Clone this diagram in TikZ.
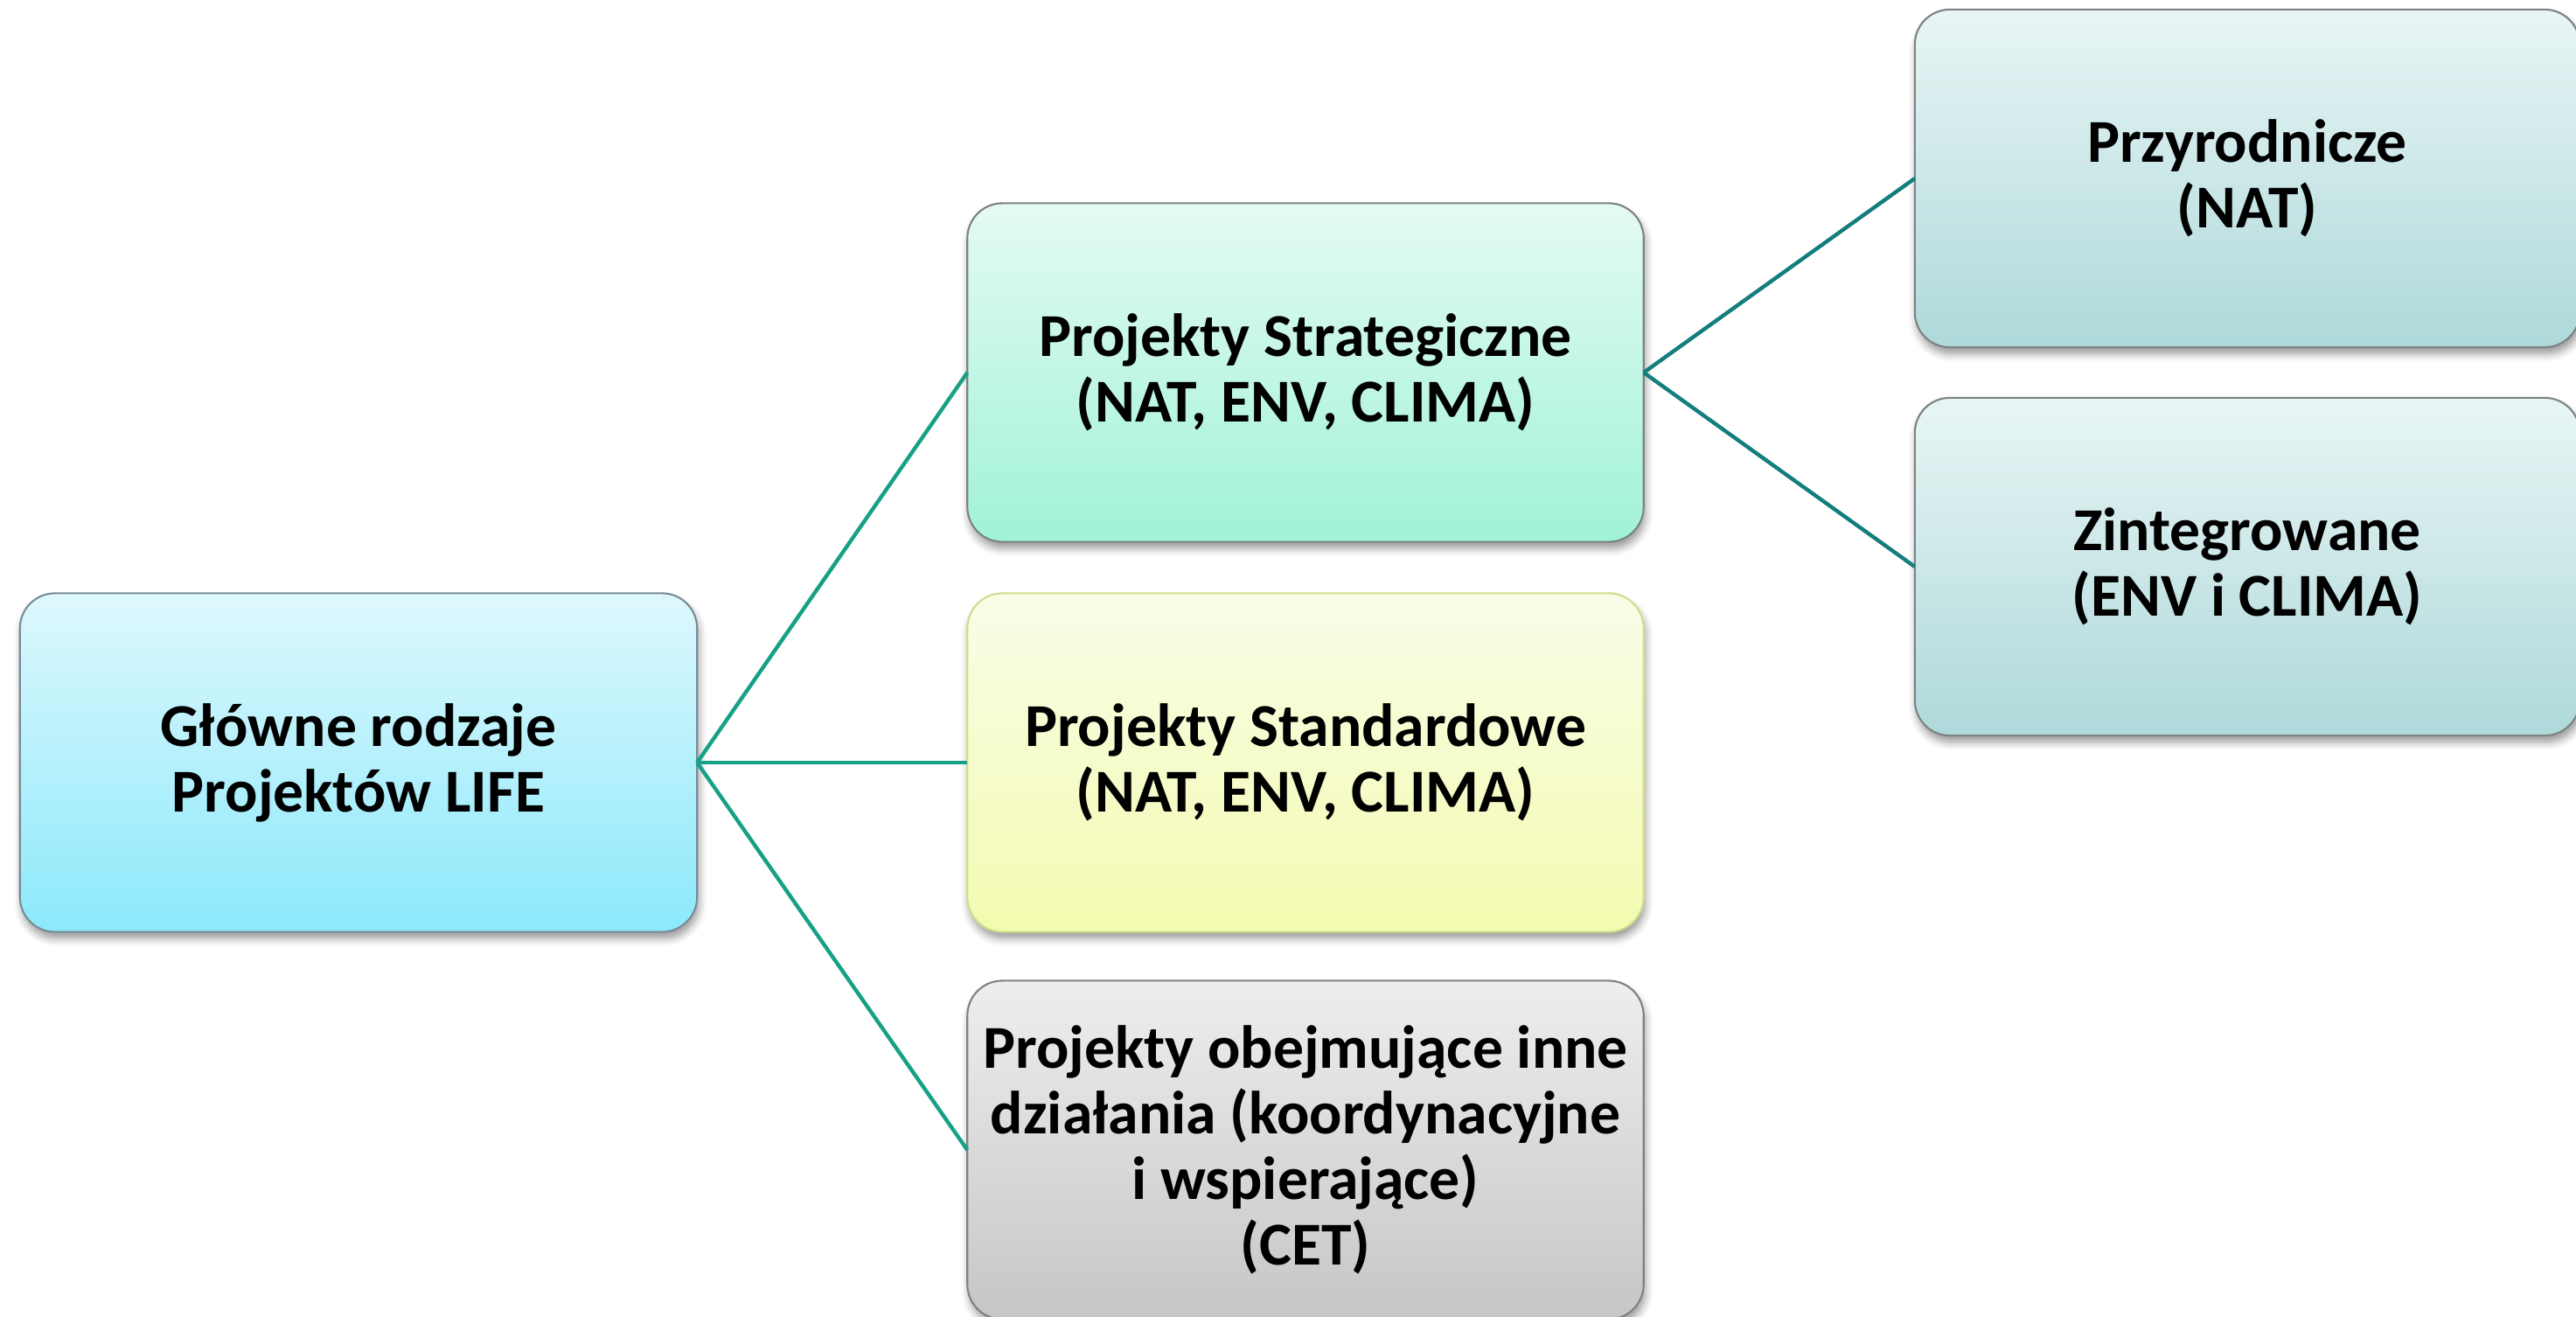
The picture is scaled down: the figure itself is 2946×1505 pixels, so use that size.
\documentclass[tikz,border=0pt]{standalone}
\usepackage{fontspec}
\setmainfont{Carlito}
\usetikzlibrary{shadows.blur}
\definecolor{rootTop}{RGB}{222,248,253}
\definecolor{rootBot}{RGB}{140,233,251}
\definecolor{rootLine}{RGB}{120,140,150}
\definecolor{strTop}{RGB}{228,250,243}
\definecolor{strBot}{RGB}{160,243,215}
\definecolor{stdTop}{RGB}{250,252,232}
\definecolor{stdBot}{RGB}{243,251,176}
\definecolor{stdLine}{RGB}{205,222,140}
\definecolor{cetTop}{RGB}{238,238,238}
\definecolor{cetBot}{RGB}{198,198,198}
\definecolor{subTop}{RGB}{233,245,245}
\definecolor{subBot}{RGB}{174,217,218}
\definecolor{boxLine}{RGB}{125,130,130}
\definecolor{linkA}{RGB}{22,160,135}
\definecolor{linkB}{RGB}{20,125,125}
\begin{document}
\begin{tikzpicture}[x=0.01cm,y=-0.01cm,
  box/.style={rounded corners=0.4cm, draw=boxLine, line width=0.6pt,
    minimum width=7.73cm, minimum height=3.87cm, align=center,
    outer sep=0pt, inner sep=0pt,
    font=\fontsize{19.8}{21.3}\selectfont\bfseries,
    blur shadow={shadow xshift=0.6pt, shadow yshift=-2.2pt, shadow blur radius=2.5pt, shadow opacity=40}},
  linkl/.style={draw=linkA, line width=1.25pt},
  linkr/.style={draw=linkB, line width=1.25pt}]
\useasboundingbox (0,0) rectangle (2946,1505);
\clip (0,0) rectangle (2946,1505);
\node[box, draw=rootLine, top color=rootTop, bottom color=rootBot, minimum width=7.74cm] (root) at (410,872) {Główne rodzaje\\Projektów LIFE};
\node[box, top color=strTop, bottom color=strBot] (str) at (1493,426) {Projekty Strategiczne\\(NAT, ENV, CLIMA)};
\node[box, draw=stdLine, top color=stdTop, bottom color=stdBot] (std) at (1493,872) {Projekty Standardowe\\(NAT, ENV, CLIMA)};
\node[box, top color=cetTop, bottom color=cetBot] (cet) at (1493,1315) {Projekty obejmujące inne\\działania (koordynacyjne\\i wspierające)\\(CET)};
\node[box, top color=subTop, bottom color=subBot, minimum width=7.6cm, minimum height=3.86cm] (nat) at (2570,204) {Przyrodnicze\\(NAT)};
\node[box, top color=subTop, bottom color=subBot, minimum width=7.6cm, minimum height=3.86cm] (zint) at (2570,648) {Zintegrowane\\(ENV i CLIMA)};
\draw[linkl] (root.east) -- (str.west);
\draw[linkl] (root.east) -- (std.west);
\draw[linkl] (root.east) -- (cet.west);
\draw[linkr] (str.east) -- (nat.west);
\draw[linkr] (str.east) -- (zint.west);
\end{tikzpicture}
\end{document}
